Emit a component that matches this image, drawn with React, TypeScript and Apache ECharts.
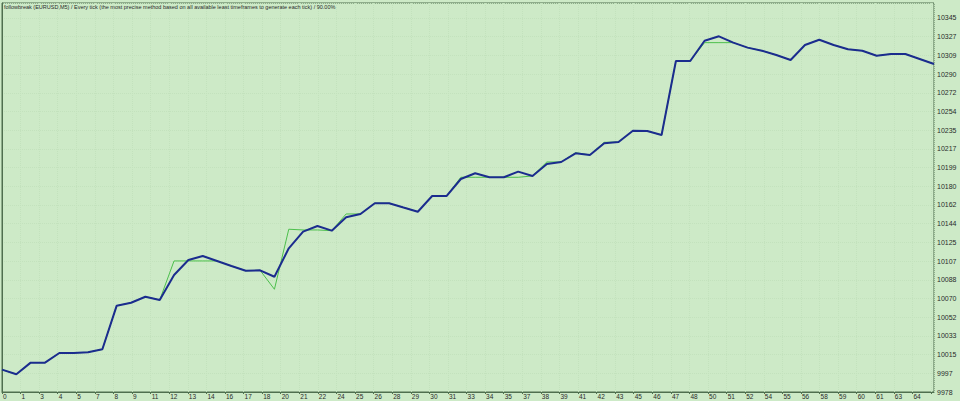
import React, { useEffect, useRef } from "react";
import * as echarts from "echarts";

const titleText =
  "followbreak (EURUSD,M5) / Every tick (the most precise method based on all available least timeframes to generate each tick) / 90.00%";

const xTickLabels = [
  "0", "1", "3", "4", "5", "7", "8", "9", "11", "12", "13", "14", "16", "17", "18", "20", "21", "22",
  "24", "25", "26", "28", "29", "30", "31", "33", "34", "35", "37", "38", "39", "41", "42", "43",
  "45", "46", "47", "48", "50", "51", "52", "54", "55", "56", "58", "59", "60", "61", "63", "64",
];

const yTickLabels = [
  "9978", "9997", "10015", "10033", "10052", "10070", "10088", "10107", "10125", "10144", "10162",
  "10180", "10199", "10217", "10235", "10254", "10272", "10290", "10309", "10327", "10345",
];

const balance = [
  10000.0, 9995.4, 10006.8, 10006.8, 10016.3, 10016.3, 10017.0, 10019.9, 10062.7, 10065.6,
  10071.5, 10068.3, 10092.8, 10107.5, 10111.5, 10106.6, 10101.6, 10097.0, 10097.4, 10091.1,
  10119.0, 10135.3, 10140.9, 10136.3, 10149.4, 10152.7, 10163.2, 10163.2, 10159.0, 10154.9,
  10170.3, 10170.3, 10187.0, 10192.6, 10188.7, 10188.7, 10194.2, 10190.0, 10201.7, 10203.7,
  10212.2, 10210.6, 10222.1, 10223.3, 10234.4, 10234.1, 10230.2, 10302.8, 10302.8, 10322.7,
  10327.0, 10320.8, 10315.9, 10312.9, 10308.7, 10303.8, 10318.5, 10323.7, 10318.5, 10314.3,
  10312.9, 10308.0, 10309.7, 10309.7, 10304.8, 10299.9,
];

const equity = [
  10000.0, 9995.4, 10006.8, 10006.8, 10016.3, 10016.3, 10017.0, 10019.9, 10062.7, 10065.6,
  10071.5, 10068.3, 10106.6, 10106.6, 10106.6, 10106.6, 10101.6, 10097.0, 10097.4, 10078.8,
  10137.7, 10137.0, 10137.0, 10136.3, 10152.7, 10152.7, 10163.2, 10163.2, 10159.0, 10154.9,
  10170.3, 10170.3, 10188.7, 10188.7, 10188.7, 10188.7, 10188.7, 10190.0, 10203.7, 10203.7,
  10212.8, 10210.6, 10223.0, 10223.3, 10234.4, 10234.1, 10230.2, 10302.8, 10302.8, 10320.8,
  10320.8, 10320.8, 10315.9, 10312.9, 10308.7, 10303.8, 10318.5, 10323.7, 10318.5, 10314.3,
  10312.9, 10308.0, 10309.7, 10309.7, 10304.8, 10299.9,
];

const BG = "#cdeac7";
const FRAME = "#4f6f4f";
const GRIDLINE = "#c3e2bd";
const TEXT = "#2a2a2a";
const FONT = "Liberation Sans";

export default function App() {
  const ref = useRef<HTMLDivElement>(null);

  useEffect(() => {
    if (!ref.current) return;
    const chart = echarts.init(ref.current, undefined, { renderer: "svg" });
    const nTrades = balance.length - 1;
    chart.setOption({
      animation: false,
      backgroundColor: BG,
      textStyle: { fontFamily: FONT },
      title: {
        text: titleText,
        left: 4,
        top: 4,
        padding: 0,
        textStyle: { fontSize: 5.5, fontWeight: "normal", color: TEXT, fontFamily: FONT },
      },
      grid: {
        left: 2,
        right: 26,
        top: 3,
        bottom: 9,
        show: true,
        borderColor: FRAME,
        borderWidth: 1,
        backgroundColor: "transparent",
      },
      xAxis: [
        {
          type: "value",
          min: 0,
          max: 50.16,
          interval: 1,
          position: "bottom",
          axisLine: { show: true, lineStyle: { color: FRAME } },
          axisTick: { show: true, length: 2, lineStyle: { color: FRAME } },
          splitLine: { show: true, lineStyle: { color: GRIDLINE, type: "dotted", width: 1 } },
          axisLabel: {
            show: true,
            align: "left",
            margin: 1,
            padding: [0, 0, 0, 1],
            fontSize: 6.5,
            color: TEXT,
            fontFamily: FONT,
            showMaxLabel: false,
            formatter: (v: number) => {
              const i = Math.round(v);
              return xTickLabels[i] !== undefined ? xTickLabels[i] : "";
            },
          },
        },
        {
          type: "value",
          min: 0,
          max: nTrades,
          show: false,
        },
      ],
      yAxis: [
        {
          type: "value",
          min: 0,
          max: 20.8,
          interval: 1,
          position: "right",
          axisLine: { show: true, lineStyle: { color: FRAME } },
          axisTick: { show: false },
          splitLine: { show: true, lineStyle: { color: GRIDLINE, type: "dotted", width: 1 } },
          axisLabel: {
            show: true,
            align: "left",
            margin: 3,
            fontSize: 7,
            color: TEXT,
            fontFamily: FONT,
            showMaxLabel: false,
            formatter: (v: number) => {
              const i = Math.round(v);
              return yTickLabels[i] !== undefined ? yTickLabels[i] : "";
            },
          },
        },
        {
          type: "value",
          min: 9978,
          max: 10359.7,
          show: false,
        },
      ],
      series: [
        {
          name: "Equity",
          type: "line",
          xAxisIndex: 1,
          yAxisIndex: 1,
          data: equity.map((v, i) => [i, v]),
          showSymbol: false,
          lineStyle: { color: "#4cbf4c", width: 1 },
          z: 2,
        },
        {
          name: "Balance",
          type: "line",
          xAxisIndex: 1,
          yAxisIndex: 1,
          data: balance.map((v, i) => [i, v]),
          showSymbol: false,
          lineStyle: { color: "#1b2c8e", width: 2 },
          z: 3,
        },
      ],
    });
    return () => chart.dispose();
  }, []);

  return (
    <div
      ref={ref}
      style={{ position: "fixed", left: 0, top: 0, width: 960, height: 401 }}
    />
  );
}
